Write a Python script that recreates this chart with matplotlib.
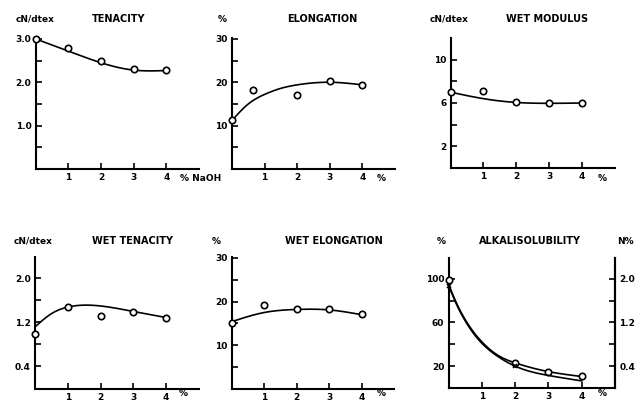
import numpy as np
import matplotlib
matplotlib.use("Agg")
import matplotlib.pyplot as plt

plt.rcParams["font.family"] = ["DejaVu Sans"]
plt.rcParams["font.weight"] = "bold"

W, H = 639, 401

# ---- measured points (x = % NaOH) ----
x_pts = [0, 1, 2, 3, 4]
tenacity = [3.0, 2.78, 2.49, 2.30, 2.28]
elong_x = [0, 0.65, 2, 3, 4]
elongation = [11.3, 18.2, 17.1, 20.2, 19.4]
wet_modulus = [7.0, 7.1, 6.05, 6.0, 6.0]
wet_tenacity = [0.99, 1.49, 1.31, 1.39, 1.29]
wet_elongation = [15.0, 19.3, 18.3, 18.2, 17.1]
alk_x = [0, 2, 3, 4]
alkali_sol = [98.5, 23.0, 15.0, 10.8]
n_x = [0, 2]
n_percent = [1.86, 0.40]

# ---- fitted trend curves (knots along each drawn curve) ----
ten_fit_x = [0, 1, 2, 3, 4]
ten_fit_y = [3.0, 2.72, 2.45, 2.28, 2.27]
elo_fit_x = [0, 0.5, 1, 1.5, 2, 3, 4]
elo_fit_y = [11.2, 15.0, 17.2, 18.6, 19.4, 20.0, 19.4]
wmod_fit_x = [0, 1, 2, 3, 4]
wmod_fit_y = [7.0, 6.4, 6.05, 5.97, 6.0]
wten_fit_x = [0, 0.5, 1, 2, 3, 4]
wten_fit_y = [1.12, 1.36, 1.48, 1.50, 1.40, 1.29]
welo_fit_x = [0, 1, 2, 3, 4]
welo_fit_y = [15.4, 17.5, 18.2, 18.1, 17.0]
alk_fit_x = [0, 0.25, 0.5, 0.75, 1, 1.5, 2, 3, 4]
alk_fit_y = [95, 77, 62.7, 51.3, 42.3, 29.6, 23, 15, 10.5]
nfit_x = [0, 0.25, 0.5, 0.75, 1, 1.5, 2, 3, 4]
nfit_y = [1.88, 1.52, 1.23, 1.00, 0.82, 0.57, 0.40, 0.23, 0.13]


def natural_spline(xk, yk, n=300):
    xk = np.asarray(xk, float)
    yk = np.asarray(yk, float)
    m = len(xk)
    h = np.diff(xk)
    A = np.zeros((m, m))
    r = np.zeros(m)
    A[0, 0] = A[-1, -1] = 1.0
    for i in range(1, m - 1):
        A[i, i - 1] = h[i - 1]
        A[i, i] = 2 * (h[i - 1] + h[i])
        A[i, i + 1] = h[i]
        r[i] = 6 * ((yk[i + 1] - yk[i]) / h[i] - (yk[i] - yk[i - 1]) / h[i - 1])
    M = np.linalg.solve(A, r)
    xs = np.linspace(xk[0], xk[-1], n)
    idx = np.clip(np.searchsorted(xk, xs) - 1, 0, m - 2)
    x0, x1 = xk[idx], xk[idx + 1]
    hh = x1 - x0
    a = (x1 - xs) / hh
    b = (xs - x0) / hh
    ys = (a * yk[idx] + b * yk[idx + 1]
          + ((a ** 3 - a) * M[idx] + (b ** 3 - b) * M[idx + 1]) * hh ** 2 / 6)
    return xs, ys


def px_axes(left, right, bottom, top):
    return fig.add_axes([left / W, 1 - bottom / H, (right - left) / W, (bottom - top) / H])


def style(ax, ylim, major, minor, right=False):
    ax.set_xlim(0, 5)
    ax.set_ylim(*ylim)
    ax.set_xticks([1, 2, 3, 4])
    ax.set_yticks(major)
    ax.set_yticks(minor, minor=True)
    ax.tick_params(axis="both", which="both", direction="in", length=4,
                   width=1.2, labelsize=6.5, pad=3, colors="black")
    ax.spines["top"].set_visible(False)
    ax.spines["right"].set_visible(right)
    for s in ("left", "bottom", "right"):
        ax.spines[s].set_linewidth(1.5)
    ax.patch.set_alpha(0)
    for lab in ax.get_xticklabels() + ax.get_yticklabels():
        lab.set_fontweight("bold")


def ftext(x, y, s, size=6.5, ha="center"):
    fig.text(x / W, 1 - y / H, s, fontsize=size, fontweight="bold",
             ha=ha, va="center", color="black")


LW = 1.2
MK = dict(marker="o", mfc="white", mec="black", ms=4.6, mew=1.2, ls="none", zorder=5)

fig = plt.figure(figsize=(W / 100, H / 100), dpi=100)
fig.patch.set_facecolor("white")

# Tenacity
ax1 = px_axes(35.5, 199, 169, 38)
style(ax1, (0, 3.02), [1.0, 2.0, 3.0], [0.5, 1.5, 2.5])
ax1.set_yticklabels(["1.0", "2.0", "3.0"])
ax1.plot(*natural_spline(ten_fit_x, ten_fit_y), color="black", lw=LW)
ax1.plot(x_pts, tenacity, **MK, clip_on=False)

# Elongation
ax2 = px_axes(232, 395, 169, 38)
style(ax2, (0, 30.2), [10, 20, 30], [5, 15, 25])
ax2.plot(*natural_spline(elo_fit_x, elo_fit_y), color="black", lw=LW)
ax2.plot(elong_x, elongation, **MK, clip_on=False)

# Wet modulus
ax3 = px_axes(450.5, 615, 168, 38)
style(ax3, (0, 12), [2, 6, 10], [4, 8])
ax3.plot(*natural_spline(wmod_fit_x, wmod_fit_y), color="black", lw=LW)
ax3.plot(x_pts, wet_modulus, **MK, clip_on=False)

# Wet tenacity
ax4 = px_axes(35, 199, 388.5, 257)
style(ax4, (0, 2.39), [0.4, 1.2, 2.0], [0.8, 1.6])
ax4.plot(*natural_spline(wten_fit_x, wten_fit_y), color="black", lw=LW)
ax4.plot(x_pts, wet_tenacity, **MK, clip_on=False)

# Wet elongation
ax5 = px_axes(231.7, 394, 389, 257)
style(ax5, (0, 30.2), [10, 20, 30], [5, 15, 25])
ax5.plot(*natural_spline(welo_fit_x, welo_fit_y), color="black", lw=LW)
ax5.plot(x_pts, wet_elongation, **MK, clip_on=False)

# Alkali solubility with N% on the right axis
ax6 = px_axes(448.5, 615, 388, 258)
style(ax6, (0, 119), [20, 60, 100], [40, 80], right=True)
ax6r = ax6.twinx()
style(ax6r, (0, 2.38), [0.4, 1.2, 2.0], [0.8, 1.6], right=True)
ax6r.spines["left"].set_visible(False)
ax6r.spines["bottom"].set_visible(False)
ax6r.tick_params(axis="x", which="both", bottom=False, labelbottom=False)
ax6r.set_yticklabels(["0.4", "1.2", "2.0"])
ax6.tick_params(axis="y", which="both", right=False)
ax6.plot(*natural_spline(alk_fit_x, alk_fit_y), color="black", lw=LW)
ax6r.plot(*natural_spline(nfit_x, nfit_y), color="black", lw=LW)
ax6.plot(alk_x, alkali_sol, **MK, clip_on=False)
ax6r.plot(n_x, n_percent, marker="x", color="black", ms=3.5, mew=1.2,
          ls="none", zorder=6, clip_on=False)

# Headings and units
ftext(35, 19, "cN/dtex")
ftext(119, 19, "TENACITY", size=7)
ftext(222, 19, "%")
ftext(322, 19, "ELONGATION", size=7)
ftext(449, 19, "cN/dtex")
ftext(547.5, 19, "WET MODULUS", size=7)
ftext(33, 241.5, "cN/dtex")
ftext(133, 241.5, "WET TENACITY", size=7)
ftext(216.5, 241, "%")
ftext(334, 241, "WET ELONGATION", size=7)
ftext(441.5, 241.5, "%")
ftext(529.5, 241.5, "ALKALISOLUBILITY", size=7)
ftext(625, 241.5, "N%")

ftext(201, 178.5, "% NaOH")
ftext(381.5, 178.5, "%")
ftext(602, 178.5, "%")
ftext(183, 393, "%")
ftext(381.5, 394, "%")
ftext(602, 394, "%")

fig.savefig("out.png", dpi=100, facecolor="white")
